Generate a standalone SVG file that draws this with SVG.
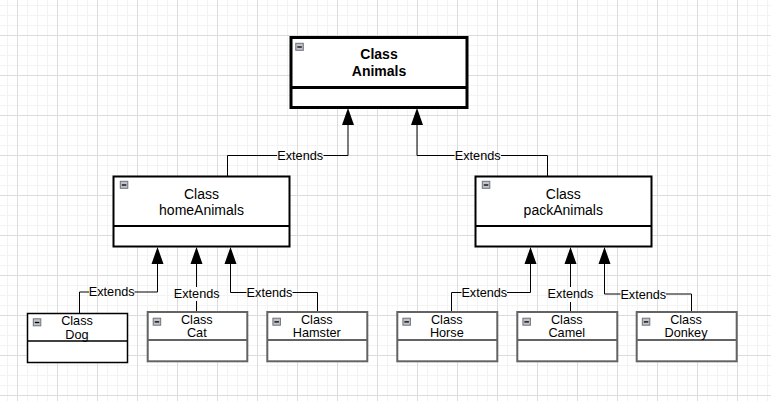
<svg xmlns="http://www.w3.org/2000/svg" width="771" height="401" viewBox="0 0 771 401">
<style>
.box{fill:#fff}
.b3{stroke:#000;stroke-width:3}
.b2{stroke:#000;stroke-width:2}
.bd{stroke:#000;stroke-width:1.5}
.bg{stroke:#636363;stroke-width:2}
.t{font-family:"Liberation Sans",Arial,sans-serif;fill:#000;text-anchor:middle}
.big{font-size:14px}
.bold{font-weight:bold}
.sm{font-size:12.7px}
.lbl{font-family:"Liberation Sans",Arial,sans-serif;font-size:12.7px;fill:#000;text-anchor:middle}
.edge{fill:none;stroke:#000;stroke-width:1}
.icon rect{fill:#bfc2c8;stroke:#6f727a;stroke-width:1}
.icon line{stroke:#000;stroke-width:1.3}
</style>
<defs>
<pattern id="grid" patternUnits="userSpaceOnUse" x="17" y="35" width="40" height="40">
<path d="M10.5,0V40M20.5,0V40M30.5,0V40M0,10.5H40M0,20.5H40M0,30.5H40" stroke="#f3f3f3" stroke-width="1" fill="none"/>
<path d="M0.5,0V40M0,0.5H40" stroke="#dcdcdc" stroke-width="1" fill="none"/>
</pattern>
<g id="minus" class="icon"><rect x="0.5" y="0.5" width="7.5" height="7"/><line x1="2" y1="4.2" x2="6.5" y2="4.2"/></g>
</defs>
<rect width="771" height="401" fill="#fff"/>
<rect width="771" height="401" fill="url(#grid)"/>

<g id="connectors">
<path class="edge" d="M348,125V155.5H323.5M277,155.5H227.5V176"/>
<path fill="#000" d="M348,108l-6,17h12z"/>
<text class="lbl" x="300.2" y="159.5">Extends</text>
<path class="edge" d="M417,125V155.5H454.5M501,155.5H547.5V176"/>
<path fill="#000" d="M417,108l-6,17h12z"/>
<text class="lbl" x="477.7" y="159.5">Extends</text>

<path class="edge" d="M157.5,264V292H134.5M89,292H79.5V313.5"/>
<path fill="#000" d="M157.5,247l-6,17h12z"/>
<text class="lbl" x="111.7" y="296">Extends</text>
<path class="edge" d="M196.5,264V287M196.5,301V312"/>
<path fill="#000" d="M196.5,247l-6,17h12z"/>
<text class="lbl" x="196.7" y="297.5">Extends</text>
<path class="edge" d="M230.5,264V292.5H246.5M292.5,292.5H317.5V312"/>
<path fill="#000" d="M230.5,247l-6,17h12z"/>
<text class="lbl" x="269.5" y="297">Extends</text>

<path class="edge" d="M530.5,264V292.5H507M461.5,292.5H451.5V312"/>
<path fill="#000" d="M530.5,247l-6,17h12z"/>
<text class="lbl" x="484.3" y="297">Extends</text>
<path class="edge" d="M570.5,264V287M570.5,302V312"/>
<path fill="#000" d="M570.5,247l-6,17h12z"/>
<text class="lbl" x="570.5" y="298">Extends</text>
<path class="edge" d="M604.5,264V294H620.5M666,294H691.5V312"/>
<path fill="#000" d="M604.5,247l-6,17h12z"/>
<text class="lbl" x="643.3" y="298.5">Extends</text>
</g>

<g id="node-animals">
<rect class="box b3" x="291" y="37.5" width="176" height="70"/>
<line class="b3" x1="291" y1="87.5" x2="467" y2="87.5"/>
<use href="#minus" x="295.3" y="42.8"/>
<text class="t big bold" x="379" y="59">Class</text>
<text class="t big bold" x="379" y="76">Animals</text>
</g>

<g id="node-homeAnimals">
<rect class="box b2" x="113.5" y="176.5" width="176" height="70"/>
<line class="b2" x1="113.5" y1="226" x2="289.5" y2="226"/>
<use href="#minus" x="119.8" y="180.8"/>
<text class="t big" x="201.5" y="199.3">Class</text>
<text class="t big" x="201.5" y="215.3">homeAnimals</text>
</g>

<g id="node-packAnimals">
<rect class="box b2" x="475.5" y="176.5" width="176" height="70"/>
<line class="b2" x1="475.5" y1="226" x2="651.5" y2="226"/>
<use href="#minus" x="481.8" y="180.8"/>
<text class="t big" x="563.3" y="199.3">Class</text>
<text class="t big" x="563.3" y="215.3">packAnimals</text>
</g>

<g id="node-dog">
<rect class="box bd" x="27.5" y="313.5" width="100" height="49"/>
<line class="bd" x1="27.5" y1="341" x2="127.5" y2="341"/>
<use href="#minus" x="32.8" y="318.3"/>
<text class="t sm" x="77" y="324.5">Class</text>
<text class="t sm" x="77" y="338.5">Dog</text>
</g>

<g id="node-cat">
<rect class="box bg" x="147.7" y="312" width="99.6" height="49.3"/>
<line class="bg" x1="147.7" y1="340" x2="247.3" y2="340"/>
<use href="#minus" x="152.7" y="317.7"/>
<text class="t sm" x="196.8" y="323.5">Class</text>
<text class="t sm" x="196.8" y="337">Cat</text>
</g>

<g id="node-hamster">
<rect class="box bg" x="267.3" y="312" width="100" height="49.3"/>
<line class="bg" x1="267.3" y1="340" x2="367.3" y2="340"/>
<use href="#minus" x="272.4" y="317.7"/>
<text class="t sm" x="316.8" y="323.5">Class</text>
<text class="t sm" x="316.8" y="337">Hamster</text>
</g>

<g id="node-horse">
<rect class="box bg" x="397.3" y="312" width="100" height="49.3"/>
<line class="bg" x1="397.3" y1="340" x2="497.3" y2="340"/>
<use href="#minus" x="402.4" y="317.7"/>
<text class="t sm" x="446.8" y="323.5">Class</text>
<text class="t sm" x="446.8" y="337">Horse</text>
</g>

<g id="node-camel">
<rect class="box bg" x="517.3" y="312" width="100" height="49.3"/>
<line class="bg" x1="517.3" y1="340" x2="617.3" y2="340"/>
<use href="#minus" x="522.4" y="317.7"/>
<text class="t sm" x="566.8" y="323.5">Class</text>
<text class="t sm" x="566.8" y="337">Camel</text>
</g>

<g id="node-donkey">
<rect class="box bg" x="636.7" y="312" width="100" height="49.3"/>
<line class="bg" x1="636.7" y1="340" x2="736.7" y2="340"/>
<use href="#minus" x="641.8" y="317.7"/>
<text class="t sm" x="686" y="323.5">Class</text>
<text class="t sm" x="686" y="337">Donkey</text>
</g>
</svg>
